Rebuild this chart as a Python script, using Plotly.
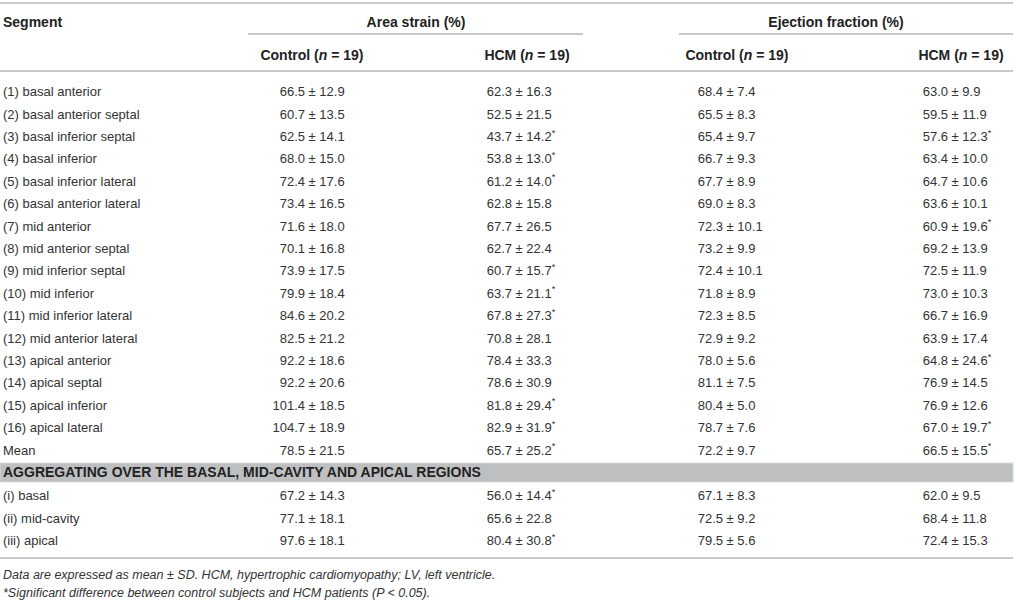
import plotly.graph_objects as go

# table content
segments = ["(1) basal anterior", "(2) basal anterior septal", "(3) basal inferior septal",
            "(4) basal inferior", "(5) basal inferior lateral", "(6) basal anterior lateral",
            "(7) mid anterior", "(8) mid anterior septal", "(9) mid inferior septal",
            "(10) mid inferior", "(11) mid inferior lateral", "(12) mid anterior lateral",
            "(13) apical anterior", "(14) apical septal", "(15) apical inferior",
            "(16) apical lateral", "Mean"]
area_control = ["66.5 ± 12.9", "60.7 ± 13.5", "62.5 ± 14.1", "68.0 ± 15.0", "72.4 ± 17.6",
                "73.4 ± 16.5", "71.6 ± 18.0", "70.1 ± 16.8", "73.9 ± 17.5", "79.9 ± 18.4",
                "84.6 ± 20.2", "82.5 ± 21.2", "92.2 ± 18.6", "92.2 ± 20.6", "101.4 ± 18.5",
                "104.7 ± 18.9", "78.5 ± 21.5"]
area_hcm = ["62.3 ± 16.3", "52.5 ± 21.5", "43.7 ± 14.2*", "53.8 ± 13.0*", "61.2 ± 14.0*",
            "62.8 ± 15.8", "67.7 ± 26.5", "62.7 ± 22.4", "60.7 ± 15.7*", "63.7 ± 21.1*",
            "67.8 ± 27.3*", "70.8 ± 28.1", "78.4 ± 33.3", "78.6 ± 30.9", "81.8 ± 29.4*",
            "82.9 ± 31.9*", "65.7 ± 25.2*"]
ef_control = ["68.4 ± 7.4", "65.5 ± 8.3", "65.4 ± 9.7", "66.7 ± 9.3", "67.7 ± 8.9",
              "69.0 ± 8.3", "72.3 ± 10.1", "73.2 ± 9.9", "72.4 ± 10.1", "71.8 ± 8.9",
              "72.3 ± 8.5", "72.9 ± 9.2", "78.0 ± 5.6", "81.1 ± 7.5", "80.4 ± 5.0",
              "78.7 ± 7.6", "72.2 ± 9.7"]
ef_hcm = ["63.0 ± 9.9", "59.5 ± 11.9", "57.6 ± 12.3*", "63.4 ± 10.0", "64.7 ± 10.6",
          "63.6 ± 10.1", "60.9 ± 19.6*", "69.2 ± 13.9", "72.5 ± 11.9", "73.0 ± 10.3",
          "66.7 ± 16.9", "63.9 ± 17.4", "64.8 ± 24.6*", "76.9 ± 14.5", "76.9 ± 12.6",
          "67.0 ± 19.7*", "66.5 ± 15.5*"]

section_title = "AGGREGATING OVER THE BASAL, MID-CAVITY AND APICAL REGIONS"
regions = ["(i) basal", "(ii) mid-cavity", "(iii) apical"]
region_area_control = ["67.2 ± 14.3", "77.1 ± 18.1", "97.6 ± 18.1"]
region_area_hcm = ["56.0 ± 14.4*", "65.6 ± 22.8", "80.4 ± 30.8*"]
region_ef_control = ["67.1 ± 8.3", "72.5 ± 9.2", "79.5 ± 5.6"]
region_ef_hcm = ["62.0 ± 9.5", "68.4 ± 11.8", "72.4 ± 15.3"]

group_headers = ["Area strain (%)", "Ejection fraction (%)"]
sub_headers = ["Control (<i>n</i> = 19)", "HCM (<i>n</i> = 19)",
               "Control (<i>n</i> = 19)", "HCM (<i>n</i> = 19)"]
footnotes = ["Data are expressed as mean ± SD. HCM, hypertrophic cardiomyopathy; LV, left ventricle.",
             "*Significant difference between control subjects and HCM patients (<i>P</i> < 0.05)."]

# layout (pixel coordinates on a 1016x600 canvas)
W, H = 1016, 600
FONT = "Liberation Sans, Arial, Helvetica, sans-serif"
TXT = "#333333"
HDR = "#222222"
RULE = "#c9c9c9"
DY = 2   # nudge text down a touch so it sits centred in its row
pm_x = [305, 512, 723, 948]   # where each value's mean ends
sub_x = [312, 527, 737, 961]
group_x = [416, 836]
row0, pitch = 91, 22.4
reg0 = 495
band = (463, 482)

fig = go.Figure()


def add_text(xs, ys, texts, pos, size=13, color=TXT):
    fig.add_trace(go.Scatter(
        x=xs, y=[y + DY for y in ys], text=texts, mode="text", textposition=pos,
        cliponaxis=False, textfont=dict(family=FONT, size=size, color=color),
        hoverinfo="skip", showlegend=False))


def add_values(col, values, ys):
    means, rests = [], []
    for v in values:
        m, s = v.split(" ± ")
        if s.endswith("*"):
            s = s[:-1] + "<sup>*</sup>"
        means.append(m)
        rests.append("\u00a0± " + s)
    add_text([pm_x[col]] * len(ys), ys, means, "middle left")
    add_text([pm_x[col]] * len(ys), ys, rests, "middle right")


seg_y = [row0 + i * pitch for i in range(len(segments))]
reg_y = [reg0 + i * 22.5 for i in range(len(regions))]

# headers
add_text([3], [21], ["<b>Segment</b>"], "middle right", size=14, color=HDR)
add_text(group_x, [21, 21], ["<b>%s</b>" % g for g in group_headers], "middle center", size=14, color=HDR)
add_text(sub_x, [54] * 4, ["<b>%s</b>" % s for s in sub_headers], "middle center", size=14, color=HDR)

# segment rows
add_text([3] * len(segments), seg_y, segments, "middle right")
for col, vals in enumerate([area_control, area_hcm, ef_control, ef_hcm]):
    add_values(col, vals, seg_y)

# aggregated section
add_text([3], [(band[0] + band[1]) / 2 - 1], ["<b>%s</b>" % section_title], "middle right", size=14, color=HDR)
add_text([3] * len(regions), reg_y, regions, "middle right")
for col, vals in enumerate([region_area_control, region_area_hcm, region_ef_control, region_ef_hcm]):
    add_values(col, vals, reg_y)

# footnotes
add_text([3, 3], [574, 592], ["<i>%s</i>" % f for f in footnotes], "middle right", size=12.5)

shapes = [
    dict(type="line", x0=0, x1=1013, y0=3, y1=3),
    dict(type="line", x0=248, x1=583, y0=34, y1=34),
    dict(type="line", x0=679, x1=1013, y0=34, y1=34),
    dict(type="line", x0=0, x1=1013, y0=71, y1=71),
    dict(type="line", x0=0, x1=1013, y0=558, y1=558),
]
for s in shapes:
    s.update(xref="x", yref="y", line=dict(color=RULE, width=2), layer="below")
shapes.append(dict(type="rect", xref="x", yref="y", x0=0, x1=1013, y0=band[0], y1=band[1],
                   fillcolor="#bebfc1", line=dict(color="#d9d9d9", width=1), layer="below"))

fig.update_layout(
    width=W, height=H,
    margin=dict(l=0, r=0, t=0, b=0),
    paper_bgcolor="white", plot_bgcolor="white",
    shapes=shapes,
    xaxis=dict(range=[0, W], visible=False, fixedrange=True),
    yaxis=dict(range=[H, 0], visible=False, fixedrange=True),
)

# drop the default page margin so the table sits flush in the window
fig.write_html("out.html", config={"displayModeBar": False},
               post_script="document.body.style.margin = '0';")
